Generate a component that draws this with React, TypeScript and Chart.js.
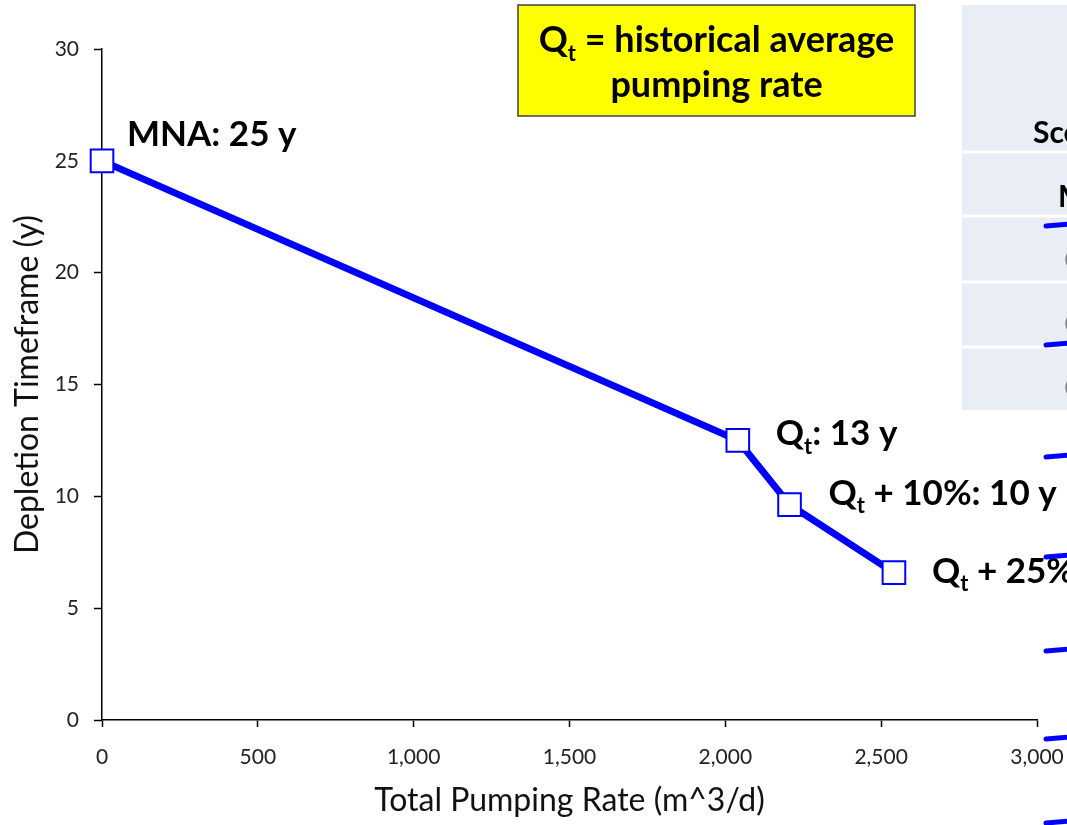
import { useEffect, useRef } from "react";
import { Chart, registerables } from "chart.js";

Chart.register(...registerables);

// Depletion timeframe for each pumping scenario
const pumpingRates = [0, 2040, 2206, 2541];
const depletionYears = [25.0, 12.5, 9.63, 6.59];
const scenarioBase = ["MNA", "Q", "Q", "Q"];
const scenarioSub = ["", "t", "t", "t"];
const scenarioSuffix = ["", "", " + 10%", " + 25%"];

const xTickStep = 500;
const yTickStep = 5;

const tableHeader = "Scenario";
const tableFirstRow = "MNA";
const tableOtherRows = ["Q", "Q", "Q"];

const FONT = "Lato, 'Open Sans', sans-serif";
const BLUE = "#0000FF";

// label placement relative to each marker (dx, dy to baseline)
const labelOffsets: [number, number][] = [
  [25, -15],
  [38, 5],
  [39, 0],
  [38, 10],
];

// short blue strokes along the right edge
const edgeStrokeY = [225, 344, 456, 556, 650, 738, 822];

type Part = { text: string; sub?: boolean };

function measureRich(ctx: CanvasRenderingContext2D, parts: Part[], size: number) {
  let w = 0;
  for (const p of parts) {
    ctx.font = `bold ${p.sub ? Math.round(size * 0.62) : size}px ${FONT}`;
    w += ctx.measureText(p.text).width;
  }
  return w;
}

function drawRich(
  ctx: CanvasRenderingContext2D,
  parts: Part[],
  x: number,
  baseline: number,
  size: number,
  color = "#000"
) {
  ctx.save();
  ctx.fillStyle = color;
  ctx.textAlign = "left";
  ctx.textBaseline = "alphabetic";
  let cx = x;
  for (const p of parts) {
    const s = p.sub ? Math.round(size * 0.62) : size;
    ctx.font = `bold ${s}px ${FONT}`;
    ctx.fillText(p.text, cx, baseline + (p.sub ? size * 0.24 : 0));
    cx += ctx.measureText(p.text).width;
  }
  ctx.restore();
}

function labelParts(i: number): Part[] {
  const parts: Part[] = [{ text: scenarioBase[i] }];
  if (scenarioSub[i]) parts.push({ text: scenarioSub[i], sub: true });
  parts.push({ text: `${scenarioSuffix[i]}: ${Math.round(depletionYears[i])} y` });
  return parts;
}

const overlayPlugin = {
  id: "overlay",
  afterDraw(chart: Chart) {
    const ctx = chart.ctx;
    const xs = chart.scales.x;
    const ys = chart.scales.y;

    // point labels
    pumpingRates.forEach((v, i) => {
      const px = xs.getPixelForValue(v);
      const py = ys.getPixelForValue(depletionYears[i]);
      const [dx, dy] = labelOffsets[i];
      drawRich(ctx, labelParts(i), px + dx, py + dy, 35);
    });

    // definition box
    ctx.save();
    ctx.fillStyle = "#FFFF00";
    ctx.fillRect(518, 5, 397, 111);
    ctx.strokeStyle = "#404040";
    ctx.lineWidth = 1.5;
    ctx.strokeRect(518, 5, 397, 111);
    ctx.restore();
    const line1: Part[] = [{ text: "Q" }, { text: "t", sub: true }, { text: " = historical average" }];
    const line2: Part[] = [{ text: "pumping rate" }];
    const cx = 518 + 397 / 2;
    drawRich(ctx, line1, cx - measureRich(ctx, line1, 36) / 2, 52, 36);
    drawRich(ctx, line2, cx - measureRich(ctx, line2, 36) / 2, 97, 36);

    // scenario table
    ctx.save();
    ctx.fillStyle = "#E9EDF5";
    ctx.fillRect(962, 5, 120, 405);
    ctx.strokeStyle = "#FFFFFF";
    ctx.lineWidth = 3;
    [152, 216, 282, 347].forEach((y) => {
      ctx.beginPath();
      ctx.moveTo(962, y);
      ctx.lineTo(1067, y);
      ctx.stroke();
    });
    ctx.restore();
    drawRich(ctx, [{ text: tableHeader }], 1033, 143, 30);
    drawRich(ctx, [{ text: tableFirstRow }], 1058, 207, 30);
    ctx.save();
    ctx.fillStyle = "#7F7F7F";
    ctx.font = `28px ${FONT}`;
    ctx.textBaseline = "middle";
    tableOtherRows.forEach((t, i) => ctx.fillText(t, 1064, 261 + i * 64));
    ctx.restore();

    // edge strokes
    ctx.save();
    ctx.strokeStyle = BLUE;
    ctx.lineWidth = 5;
    ctx.lineCap = "round";
    edgeStrokeY.forEach((y) => {
      ctx.beginPath();
      ctx.moveTo(1046, y + 1);
      ctx.lineTo(1070, y - 1);
      ctx.stroke();
    });
    ctx.restore();
  },
};

export default function App() {
  const canvasRef = useRef<HTMLCanvasElement | null>(null);

  useEffect(() => {
    if (!canvasRef.current) return;
    const chart = new Chart(canvasRef.current, {
      type: "line",
      data: {
        datasets: [
          {
            data: pumpingRates.map((x, i) => ({ x, y: depletionYears[i] })),
            borderColor: BLUE,
            borderWidth: 7,
            pointStyle: "rect",
            pointRadius: 16,
            pointBorderWidth: 2,
            pointBorderColor: BLUE,
            pointBackgroundColor: "#FFFFFF",
            tension: 0,
            clip: false,
          },
        ],
      },
      options: {
        animation: false,
        responsive: false,
        maintainAspectRatio: false,
        devicePixelRatio: 1,
        layout: { padding: { top: 49, right: 30, left: 0, bottom: 0 } },
        plugins: { legend: { display: false }, tooltip: { enabled: false } },
        scales: {
          x: {
            type: "linear",
            min: 0,
            max: 3000,
            ticks: {
              stepSize: xTickStep,
              color: "#222",
              padding: 18,
              maxRotation: 0,
              font: { family: FONT, size: 21 },
              callback: (v) => Number(v).toLocaleString("en-US"),
            },
            grid: { drawOnChartArea: false, color: "#000", tickLength: 7, tickWidth: 1.5 },
            border: { color: "#000", width: 1.5 },
            title: {
              display: true,
              text: "Total Pumping Rate (m^3/d)",
              color: "#111",
              font: { family: FONT, size: 32 },
              padding: { top: 4, bottom: 5 },
            },
            afterFit: (s) => {
              s.height = 105;
              s.paddingLeft = 0;
              s.paddingRight = 0;
            },
          },
          y: {
            min: 0,
            max: 30,
            ticks: {
              stepSize: yTickStep,
              color: "#222",
              padding: 15,
              font: { family: FONT, size: 21 },
            },
            grid: { drawOnChartArea: false, color: "#000", tickLength: 8, tickWidth: 1.5 },
            border: { color: "#000", width: 1.5 },
            title: {
              display: true,
              text: "Depletion Timeframe (y)",
              color: "#111",
              font: { family: FONT, size: 32 },
              padding: { top: 8, bottom: 4 },
            },
            afterFit: (s) => {
              s.width = 102;
              s.paddingTop = 0;
              s.paddingBottom = 0;
            },
          },
        },
      },
      plugins: [overlayPlugin],
    });
    return () => chart.destroy();
  }, []);

  return (
    <div style={{ position: "absolute", left: 0, top: 0, width: 1067, height: 825, overflow: "hidden", background: "#fff" }}>
      <canvas ref={canvasRef} width={1067} height={825} />
    </div>
  );
}
